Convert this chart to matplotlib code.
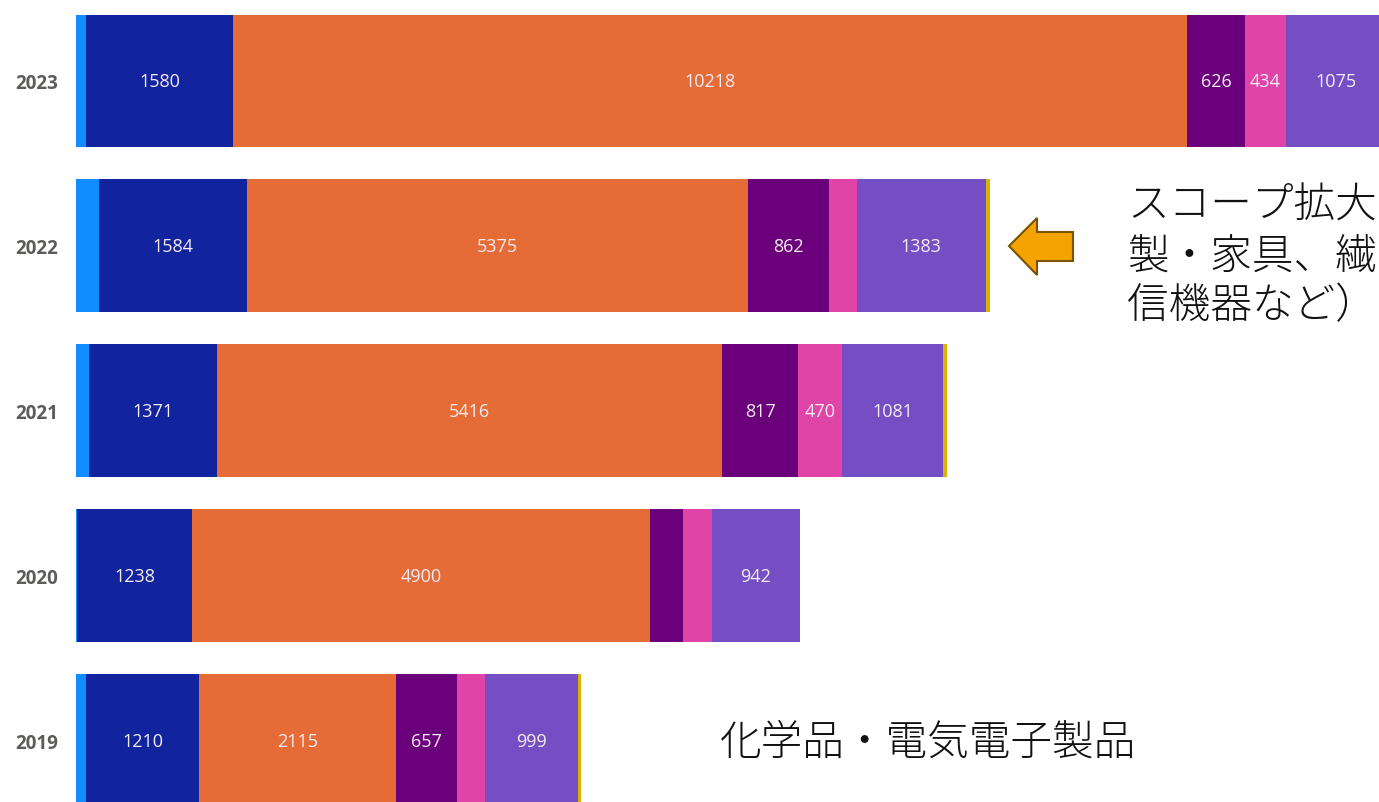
import numpy as np
import matplotlib.pyplot as plt
from matplotlib.patches import Polygon

# year order from top to bottom
years = ["2023", "2022", "2021", "2020", "2019"]

# stacked segments per year (same order as years)
seg_lightblue = [107, 246, 140, 10, 107]
seg_navy = [1580, 1584, 1371, 1238, 1210]
seg_orange = [10218, 5375, 5416, 4900, 2115]
seg_purple = [626, 862, 817, 355, 657]
seg_pink = [434, 300, 470, 310, 290]
seg_violet = [1075, 1383, 1081, 942, 999]
seg_yellow = [0, 50, 40, 0, 30]

series = [seg_lightblue, seg_navy, seg_orange, seg_purple, seg_pink, seg_violet, seg_yellow]
colors = ["#118DFF", "#12239E", "#E66C37", "#6B007B", "#E044A7", "#744EC2", "#D9B300"]
labelled = [False, True, True, True, True, True, False]
min_label = 400

W, H = 1379, 803
fig = plt.figure(figsize=(W / 100, H / 100), dpi=100)
ax = fig.add_axes([76 / W, 0, 1 - 76 / W, 1])

y = np.arange(len(years))
left = np.zeros(len(years))
for vals, col, lab in zip(series, colors, labelled):
    vals = np.array(vals, dtype=float)
    ax.barh(y, vals, left=left, height=0.806, color=col, linewidth=0)
    if lab:
        for yi, (l, v) in enumerate(zip(left, vals)):
            if v >= min_label:
                ax.text(l + v / 2, yi, f"{int(v)}", ha="center", va="center",
                        color="#F6ECF4", fontsize=13, family="Open Sans")
    left += vals

ax.set_xlim(0, 13966)
ax.set_ylim(4.37, -0.497)
ax.set_yticks(y)
ax.set_yticklabels(years, fontsize=13.5, fontweight="bold", color="#5E5C5A",
                   family="Open Sans")
ax.tick_params(axis="y", length=0, pad=13)
ax.tick_params(axis="x", bottom=False, labelbottom=False)
for s in ax.spines.values():
    s.set_visible(False)

# annotation arrow pointing at the 2022 bar
pts = [(1009, 247), (1037, 219), (1037, 233), (1073, 233),
       (1073, 262), (1037, 262), (1037, 276)]
arrow = Polygon([(px / W, 1 - py / H) for px, py in pts], closed=True,
                transform=fig.transFigure, facecolor="#F4A300",
                edgecolor="#7A5200", linewidth=1.5)
fig.patches.append(arrow)

jp = ["Noto Sans CJK JP", "DejaVu Sans"]
side_lines = ["スコープ拡大", "製・家具、繊", "信機器など）"]
side_y = [206, 257, 306]
for txt, py in zip(side_lines, side_y):
    fig.text(1127 / W, 1 - py / H, txt, ha="left", va="center",
             fontsize=30, family=jp, fontweight="light", color="#111111")

fig.text(720 / W, 1 - 743 / H, "化学品・電気電子製品", ha="left", va="center",
         fontsize=30, family=jp, fontweight="light", color="#111111")

fig.savefig("out.png", dpi=100)
